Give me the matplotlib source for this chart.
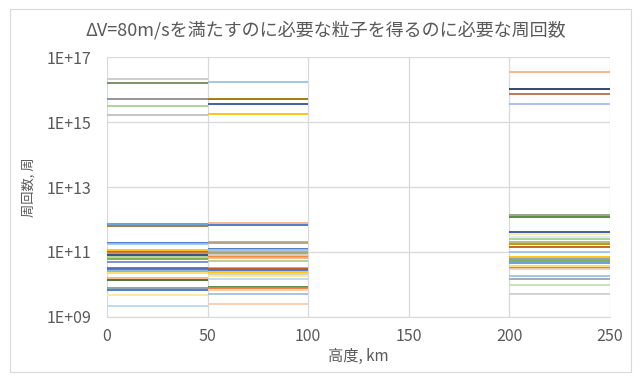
import matplotlib
matplotlib.use("Agg")
import matplotlib.pyplot as plt
from matplotlib.patches import Rectangle

plt.rcParams['font.family'] = ['Noto Sans CJK JP', 'DejaVu Sans']

# orbit counts per altitude band (0-50, 50-100, 200-250 km)
band_a = [2.07e16, 1.65e16, 5.1e15, 3.2e15, 1.66e15,
          7.2e11, 6.2e11, 1.9e11, 1.75e11, 1.18e11, 1.0e11, 9.0e10, 8.0e10,
          6.8e10, 6.0e10, 4.9e10, 3.2e10, 2.9e10, 2.6e10, 2.2e10, 1.6e10,
          1.36e10, 7.9e9, 6.8e9, 4.6e9, 2.2e9]
colors_a = ['#C9C9C9', '#6E8B5A', '#8C8C8C', '#A9D18E', '#BFBFBF',
            '#5B9BD5', '#8C7A3A', '#4472C4', '#9DC3E6', '#FFC000', '#4472C4', '#ED7D31', '#264478',
            '#A9D18E', '#70AD47', '#698ED0', '#C55A11', '#4472C4', '#7CAFDD', '#FFD966', '#F4B183',
            '#43682B', '#8497B0', '#4472C4', '#FFE699', '#BDD7EE']

band_b = [1.77e16, 5.3e15, 3.6e15, 1.79e15,
          7.6e11, 6.6e11, 1.97e11, 1.84e11, 1.25e11, 1.14e11, 1.0e11, 9.0e10,
          8.0e10, 7.1e10, 6.25e10, 5.2e10, 3.25e10, 2.97e10, 2.7e10, 2.45e10,
          2.12e10, 1.84e10, 1.46e10, 8.4e9, 7.5e9, 6.9e9, 4.9e9, 2.4e9]
colors_b = ['#9DC3E6', '#997300', '#2F5597', '#FFC000',
            '#F4B183', '#4472C4', '#A9B86F', '#B4A07A', '#4472C4', '#9DC3E6', '#A5A5A5', '#A5A566',
            '#C9C9C9', '#ED7D31', '#F4B183', '#A9D18E', '#A5A5A5', '#C55A11', '#4472C4', '#FFC000',
            '#D0CECE', '#FFE699', '#BDD7EE', '#548235', '#ED7D31', '#F8CBAD', '#9DC3E6', '#F8CBAD']

band_c = [3.5e16, 1.05e16, 7.2e15, 3.6e15,
          1.37e12, 1.23e12, 4.0e11, 3.5e11, 2.9e11, 2.5e11, 1.97e11, 1.71e11,
          1.41e11, 9.9e10, 6.8e10, 5.9e10, 5.2e10, 4.6e10, 3.75e10, 3.25e10,
          2.9e10, 1.77e10, 1.43e10, 9.7e9, 4.9e9]
colors_c = ['#F4B183', '#203864', '#B07050', '#A4BCEA',
            '#8FA07A', '#548235', '#2F5597', '#FFE699', '#DDEBF7', '#A9D18E', '#A9B86F', '#BF9000',
            '#C55A11', '#9DC3E6', '#FFC000', '#8497B0', '#70AD47', '#5B9BD5', '#FFD966', '#5B9BD5',
            '#F8CBAD', '#9DC3E6', '#A5A5A5', '#C5E0B4', '#D0CECE']

bands = [((0, 50), band_a, colors_a),
         ((50, 100), band_b, colors_b),
         ((200, 250), band_c, colors_c)]

x_ticks = [0, 50, 100, 150, 200, 250]
y_ticks = [1e9, 1e11, 1e13, 1e15, 1e17]
y_labels = ['1E+09', '1E+11', '1E+13', '1E+15', '1E+17']

fig = plt.figure(figsize=(6.41, 3.76), dpi=100)
ax = fig.add_axes([107 / 641, 1 - 316.7 / 376, 503 / 641, 259.4 / 376])

for (x0, x1), vals, cols in bands:
    for v, c in zip(vals, cols):
        ax.plot([x0, x1], [v, v], color=c, lw=1.3, solid_capstyle='butt')

ax.set_yscale('log')
ax.set_xlim(0, 250)
ax.set_ylim(1e9, 1e17)
ax.set_xticks(x_ticks)
ax.set_yticks(y_ticks)
ax.set_yticklabels(y_labels)
ax.minorticks_off()
ax.grid(True, color='#D9D9D9', lw=0.9)
ax.set_axisbelow(True)
for s in ['top', 'right', 'left']:
    ax.spines[s].set_visible(False)
ax.spines['bottom'].set_color('#D9D9D9')
ax.tick_params(length=0, labelsize=11.5, colors='#595959', pad=11)
ax.tick_params(axis='x', pad=8)

ax.set_xlabel('高度, km', fontsize=11, color='#595959', labelpad=2)
ax.set_ylabel('周回数, 周', fontsize=9.5, color='#595959', labelpad=8)
fig.text(0.508, 1 - 30 / 376, 'ΔV=80m/sを満たすのに必要な粒子を得るのに必要な周回数',
         fontsize=13, color='#595959', ha='center', va='center')

fig.patches.append(Rectangle((10 / 641, 4 / 376), 621 / 641, 363 / 376,
                             transform=fig.transFigure, fill=False,
                             edgecolor='#D9D9D9', lw=0.8))

fig.savefig('out.png', dpi=100)
